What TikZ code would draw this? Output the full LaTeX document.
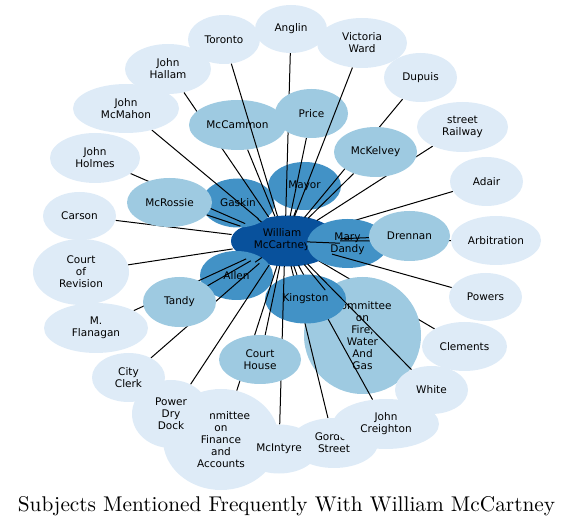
\documentclass[tikz,border=0pt]{standalone}
\usepackage{fontspec}
\newfontfamily\dejavu{DejaVu Sans}
\newfontfamily\lmten{lmroman10-regular.otf}
\usetikzlibrary{shapes.geometric}
\definecolor{cL}{HTML}{DEEBF7}
\definecolor{cM}{HTML}{9ECAE1}
\definecolor{cS}{HTML}{4292C6}
\definecolor{cD}{HTML}{08519C}
\tikzset{
  nd/.style={ellipse, inner sep=0pt, draw=none, align=center, text=black,
    font=\dejavu\fontsize{10.5}{12}\selectfont},
  lightnd/.style={nd, fill=cL},
  midnd/.style={nd, fill=cM},
  strongnd/.style={nd, fill=cS},
  edge/.style={draw=black, line width=1pt},
  sz/.style 2 args={minimum width=#1pt, minimum height=#2pt},
}
\begin{document}
\begin{tikzpicture}[x=1pt,y=-1pt]
\useasboundingbox (0,0) rectangle (573,526);
% centre node
\fill[cD] (288,241) ellipse [x radius=50, y radius=25.5];
\fill[cD] (256,241) ellipse [x radius=25, y radius=16.5];
\node[nd, sz={110}{50}] (c) at (285,241) {};
\node[nd] (ctext) at (282,240) {William\\McCartney};
% coordinates of nodes drawn later (for early edges)
\node[nd, sz={73}{49}] (adair0) at (486.5,181.5) {};
\node[nd, sz={85}{49}] (clements0) at (464.5,346.5) {};
\draw[edge] (c) -- (adair0);
\draw[edge] (c) -- (clements0);
% medium nodes under the edges
\node[strongnd, sz={81}{49}] (dandy) at (347.5,243.5) {Mary\\Dandy};
\node[midnd, sz={117}{117}] (fire) at (362.5,335.5) {Committee\\on\\Fire,\\Water\\And\\Gas};
\node[strongnd, sz={73}{49}] (gaskin) at (238,203) {Gaskin};
\node[strongnd, sz={73}{48}] (mayor) at (304.5,186) {Mayor};
\node[strongnd, sz={73}{49}] (allen) at (236.5,275.5) {Allen};
\node[nd, sz={106}{50}] (creighton0) at (386,424) {};
\node[nd, sz={88}{50}] (gordon0) at (334,443) {};
\draw[edge] (c) -- (creighton0);
\draw[edge] (c) -- (gordon0);
\node[strongnd, sz={81}{49}] (kingston) at (305.5,299) {Kingston};
% placeholders for the remaining targets
\node[nd, sz={72}{48}] (anglin0) at (291,29) {};
\node[nd, sz={73}{49}] (dupuis0) at (420.5,77.5) {};
\node[nd, sz={91}{50}] (railway0) at (462.5,127) {};
\node[nd, sz={90}{49}] (arbitration0) at (496,240.5) {};
\node[nd, sz={73}{48}] (powers0) at (485.5,297) {};
\node[nd, sz={73}{48}] (white0) at (431.5,390) {};
\node[nd, sz={78}{49}] (mcintyre0) at (279,449) {};
\node[nd, sz={116}{101}] (finance0) at (221,439.5) {};
\node[nd, sz={78}{68}] (drydock0) at (171,414) {};
\node[nd, sz={73}{49}] (clerk0) at (128.5,377.5) {};
\node[nd, sz={104}{50}] (flanagan0) at (96,328) {};
\node[nd, sz={96}{66}] (revision0) at (81,272) {};
\node[nd, sz={73}{48}] (carson0) at (79.5,216) {};
\node[nd, sz={90}{50}] (holmes0) at (95,158) {};
\node[nd, sz={106}{49}] (mcmahon0) at (126,108.5) {};
\node[nd, sz={86}{50}] (hallam0) at (168,69) {};
\node[nd, sz={97}{50}] (mccammon0) at (237.5,125) {};
\node[nd, sz={73}{49}] (price0) at (311.5,113.5) {};
\node[nd, sz={83}{50}] (mckelvey0) at (375.5,152) {};
\node[nd, sz={81}{50}] (drennan0) at (409.5,236) {};
\node[nd, sz={73}{50}] (tandy0) at (179.5,302) {};
\node[nd, sz={82}{49}] (courthouse0) at (260,359.5) {};
\node[nd, sz={85}{49}] (mcrossie0) at (169.5,202.5) {};
\foreach \t in {dandy,fire,gaskin,mayor,allen,kingston,anglin0,dupuis0,railway0,
  arbitration0,powers0,white0,mcintyre0,finance0,drydock0,clerk0,flanagan0,
  revision0,carson0,holmes0,mcmahon0,hallam0,mccammon0,price0,mckelvey0,
  drennan0,tandy0,courthouse0,mcrossie0}
  \draw[edge] (c) -- (\t);
% light-medium nodes
\node[midnd, sz={97}{50}] (mccammon) at (237.5,125) {McCammon};
\node[midnd, sz={85}{49}] (mcrossie) at (169.5,202.5) {McRossie};
\node[midnd, sz={73}{49}] (price) at (311.5,113.5) {Price};
\node[midnd, sz={83}{50}] (mckelvey) at (375.5,152) {McKelvey};
\node[midnd, sz={81}{50}] (drennan) at (409.5,236) {Drennan};
\node[midnd, sz={73}{50}] (tandy) at (179.5,302) {Tandy};
\node[midnd, sz={82}{49}] (courthouse) at (260,359.5) {Court\\House};
% lightest nodes
\node[lightnd, sz={116}{101}] (finance) at (221,439.5) {Committee\\on\\Finance\\and\\Accounts};
\node[lightnd, sz={78}{68}] (drydock) at (171,414) {Power\\Dry\\Dock};
\node[lightnd, sz={88}{50}] (gordon) at (334,443) {Gordon\\Street};
\node[lightnd, sz={78}{49}] (mcintyre) at (279,449) {McIntyre};
\node[lightnd, sz={106}{50}] (creighton) at (386,424) {John\\Creighton};
\node[lightnd, sz={73}{48}] (white) at (431.5,390) {White};
\node[lightnd, sz={85}{49}] (clements) at (464.5,346.5) {Clements};
\node[lightnd, sz={73}{48}] (powers) at (485.5,297) {Powers};
\node[lightnd, sz={90}{49}] (arbitration) at (496,240.5) {Arbitration};
\node[lightnd, sz={73}{49}] (adair) at (486.5,181.5) {Adair};
\node[lightnd, sz={91}{50}] (railway) at (462.5,127) {street\\Railway};
\node[lightnd, sz={73}{49}] (dupuis) at (420.5,77.5) {Dupuis};
\node[lightnd, sz={90}{50}] (victoria) at (362,43) {Victoria\\Ward};
\node[lightnd, sz={72}{48}] (anglin) at (291,29) {Anglin};
\node[lightnd, sz={72}{49}] (toronto) at (224,39.5) {Toronto};
\node[lightnd, sz={86}{50}] (hallam) at (168,69) {John\\Hallam};
\node[lightnd, sz={106}{49}] (mcmahon) at (126,108.5) {John\\McMahon};
\node[lightnd, sz={90}{50}] (holmes) at (95,158) {John\\Holmes};
\node[lightnd, sz={73}{48}] (carson) at (79.5,216) {Carson};
\node[lightnd, sz={96}{66}] (revision) at (81,272) {Court\\of\\Revision};
\node[lightnd, sz={104}{50}] (flanagan) at (96,328) {M.\\Flanagan};
\node[lightnd, sz={73}{49}] (clerk) at (128.5,377.5) {City\\Clerk};
% edges drawn on top of light-medium nodes
\draw[edge] (c) -- (toronto);
\draw[edge] (c) -- (victoria);
% title
\node[anchor=base, inner sep=0pt, font=\lmten\fontsize{21.3}{24}\selectfont] (title) at (286.5,511.5)
  {Subjects Mentioned Frequently With William McCartney};
\end{tikzpicture}
\end{document}
